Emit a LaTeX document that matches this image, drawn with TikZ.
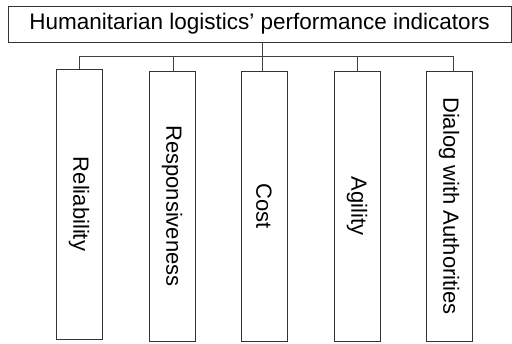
\documentclass[tikz,border=0pt]{standalone}
\usepackage{fontspec}
\setmainfont{Liberation Sans}
\begin{document}
\begin{tikzpicture}[x=1pt,y=-1pt,
  box/.style={draw=black!80,line width=0.9pt,fill=white,inner sep=0pt},
  conn/.style={draw=black!75,line width=0.9pt},
  lab/.style={font=\fontsize{22}{25}\selectfont,rotate=-90}]
\useasboundingbox (0,0) rectangle (512,344);
\node[box,minimum width=503pt,minimum height=36pt,font=\fontsize{22.5}{26}\selectfont] (top) at (259.5,24) {Humanitarian logistics’ performance indicators};
\node[box,minimum width=46pt,minimum height=270pt] (b1) at (79,204) {};
\node[box,minimum width=46pt,minimum height=270pt] (b2) at (172,206) {};
\node[box,minimum width=46pt,minimum height=270pt] (b3) at (264,206) {};
\node[box,minimum width=46pt,minimum height=270pt] (b4) at (357,206) {};
\node[box,minimum width=46pt,minimum height=270pt] (b5) at (449,206) {};
\node[lab] (t1) at (b1.center) {Reliability};
\node[lab] (t2) at (b2.center) {Responsiveness};
\node[lab] (t3) at (b3.center) {Cost};
\node[lab] (t4) at (b4.center) {Agility};
\node[lab] (t5) at (b5.center) {Dialog with Authorities};
\coordinate (h) at (262,56);
\draw[conn] (top.south -| h) -- (h);
\draw[conn] (b1.north) |- (h);
\draw[conn] (b5.north -| 453,0) |- (h);
\draw[conn] (b2.north -| 173,0) -- (173,56);
\draw[conn] (b3.north -| 262,0) -- (262,56);
\draw[conn] (b4.north) -- (b4.north |- h);
\end{tikzpicture}
\end{document}
